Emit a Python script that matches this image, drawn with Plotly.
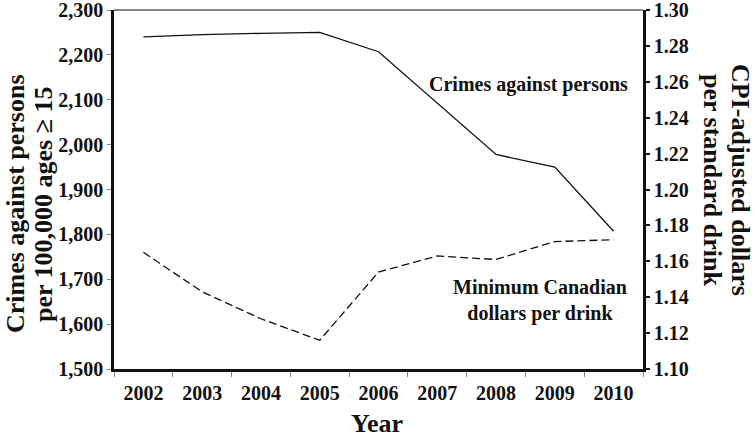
import plotly.graph_objects as go

years = ["2002", "2003", "2004", "2005", "2006", "2007", "2008", "2009", "2010"]
crimes = [2240, 2245, 2248, 2250, 2207, 2093, 1978, 1950, 1807]
min_price = [1.165, 1.143, 1.128, 1.116, 1.154, 1.163, 1.161, 1.171, 1.172]

FONT = "Liberation Serif"
W, H = 755, 438
L, R, T, B = 114, 112, 10, 69

fig = go.Figure()
fig.add_trace(go.Scatter(x=years, y=crimes, mode="lines",
                         line=dict(color="#111111", width=1.3), yaxis="y"))
fig.add_trace(go.Scatter(x=years, y=min_price, mode="lines",
                         line=dict(color="#111111", width=1.3, dash="8px,4px"), yaxis="y2"))

tickfont = dict(family=FONT, size=20, color="#111111", weight="bold")

fig.update_layout(
    width=W, height=H,
    margin=dict(l=L, r=R, t=T, b=B, autoexpand=False),
    paper_bgcolor="white", plot_bgcolor="white",
    showlegend=False,
    xaxis=dict(type="category", tickson="boundaries", ticks="outside", ticklen=5,
               tickcolor="#888888", tickwidth=1, showgrid=False, zeroline=False,
               showline=True, linecolor="#111111", linewidth=2.5, ticklabelstandoff=4,
               tickfont=tickfont, range=[-0.5, 8.5], fixedrange=True),
    yaxis=dict(range=[1500, 2300], dtick=100, tickformat=",", ticks="outside", ticklen=4,
               tickcolor="#888888", tickwidth=1, showgrid=False, zeroline=False,
               showline=True, linecolor="#111111", linewidth=2.5,
               tickfont=tickfont, ticklabeloverflow="allow", fixedrange=True),
    yaxis2=dict(range=[1.10, 1.30], dtick=0.02, tickformat=".2f", overlaying="y", side="right",
                ticks="outside", ticklen=4, tickcolor="#111111", tickwidth=2,
                showgrid=False, zeroline=False, showline=True, linecolor="#111111",
                linewidth=2.5, tickfont=tickfont, ticklabeloverflow="allow", fixedrange=True),
)

fig.add_shape(type="line", xref="paper", yref="paper", x0=0, x1=1, y0=1, y1=1,
              line=dict(color="#111111", width=1.2))

def px_x(x):
    return (x - L) / (W - L - R)

def px_y(y):
    return (H - B - y) / (H - T - B)

title_font = dict(family=FONT, size=26, color="#111111", weight="bold")
label_font = dict(family=FONT, size=20, color="#111111", weight="bold")

ann = [
    dict(text="Crimes against persons", x=px_x(15), y=px_y(204), textangle=-90, font=title_font),
    dict(text="per 100,000 ages ≥ 15", x=px_x(43), y=px_y(204), textangle=-90, font=title_font),
    dict(text="CPI-adjusted dollars", x=px_x(740), y=px_y(180), textangle=90, font=title_font),
    dict(text="per standard drink", x=px_x(712), y=px_y(180), textangle=90, font=title_font),
    dict(text="Year", x=px_x(377), y=px_y(423), font=title_font),
    dict(text="Crimes against persons", x=px_x(630), y=px_y(85), xanchor="right",
         font=label_font),
    dict(text="Minimum Canadian<br>dollars per drink", x=px_x(540), y=px_y(300),
         font=label_font),
]
for a in ann:
    a.setdefault("xanchor", "center")
    fig.add_annotation(xref="paper", yref="paper", showarrow=False, yanchor="middle", **a)

fig.write_html("out.html", config={"displayModeBar": False},
               post_script="document.body.style.margin='0';document.body.style.padding='0';")
